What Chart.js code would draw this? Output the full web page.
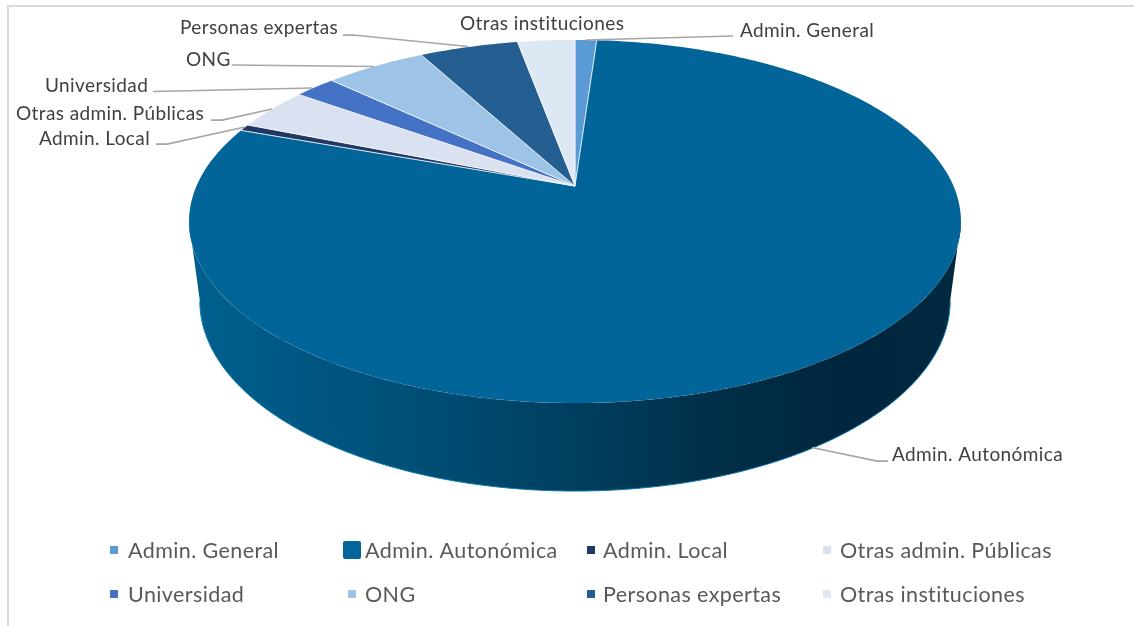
<!DOCTYPE html>
<html><head><meta charset="utf-8">
<style>html,body{margin:0;padding:0;background:#fff}#w{position:absolute;left:0;top:0;width:1134px;height:626px}</style>
<script src="https://cdn.jsdelivr.net/npm/chart.js@4"></script></head>
<body><div id="w"><canvas id="c" width="1134" height="626"></canvas></div>
<script>
const categories = ["Admin. General","Admin. Autonómica","Admin. Local","Otras admin. Públicas","Universidad","ONG","Personas expertas","Otras instituciones"];
const values = [1.1,79.5,0.6,3.8,2.1,5.1,5.0,2.9];
const colors = ["#5b9bd5","#01659a","#1f3864","#dae1f1","#4472c4","#9dc3e6","#255e91","#dde8f5"];

// perspective disc layout
const G = {cx:575, cy:186, R:378.5, S:174.6, p:-0.1956, lowerScale:0.972, midY:221.5, lowerMidY:301, lowerYScale:190/181.5};
function proj(a){const x=Math.cos(a),y=Math.sin(a),w=1+G.p*y;return [G.cx+G.R*x/w,G.cy+G.S*y/w];}
function lower(pt){return [G.cx+(pt[0]-G.cx)*G.lowerScale,G.lowerMidY+(pt[1]-G.midY)*G.lowerYScale];}

const labelLayout = [
 {x:740,y:31,line:[[586,40],[733,36]]},
 {x:892,y:455,line:[[812,447.5],[877,461],[888,461]]},
 {x:39,y:139,line:[[156,144],[167,144],[245,127]]},
 {x:16,y:114,line:[[211,120],[222,120],[272,109]]},
 {x:45,y:86,line:[[153,91.5],[312,88]]},
 {x:186,y:60,line:[[232,65],[374,66.5]]},
 {x:180,y:28,line:[[343,35],[353,35],[468,46.5]]},
 {x:460,y:24,line:null}
];
const legendLayout = [
 {mx:110,tx:128,y:551},{mx:343,tx:365,y:551,big:true},{mx:587,tx:603,y:551},{mx:823,tx:840,y:551},
 {mx:110,tx:128,y:595},{mx:348,tx:365,y:595},{mx:587,tx:603,y:595},{mx:823,tx:840,y:595}
];
const FONT='Lato, Carlito, "Open Sans", sans-serif';

const disc3d = {
 id:'disc3d',
 beforeDatasetDraw(chart,args){
  const ctx=chart.ctx, arcs=args.meta.data;
  const wallStart=Math.asin(-G.p), wallEnd=Math.PI-wallStart;
  const grad=ctx.createLinearGradient(200,0,950,0);
  grad.addColorStop(0,'#005f8e');grad.addColorStop(0.3,'#004e75');grad.addColorStop(0.5,'#003f5f');
  grad.addColorStop(0.7,'#002e47');grad.addColorStop(0.85,'#00273d');grad.addColorStop(1,'#00283e');
  ctx.save();
  arcs.forEach((arc,i)=>{
   // front wall of the slice
   let s=arc.startAngle,e=arc.endAngle;
   const lo=Math.max(s,wallStart), hi=Math.min(e,wallEnd);
   if(hi>lo){
    ctx.beginPath();
    const n=200;
    for(let k=0;k<=n;k++){const a=lo+(hi-lo)*k/n;const q=proj(a);k?ctx.lineTo(q[0],q[1]):ctx.moveTo(q[0],q[1]);}
    for(let k=n;k>=0;k--){const a=lo+(hi-lo)*k/n;const q=lower(proj(a));ctx.lineTo(q[0],q[1]);}
    ctx.closePath();
    ctx.fillStyle=grad;ctx.fill();
    ctx.strokeStyle='#0a7ab0';ctx.lineWidth=1;
    ctx.beginPath();
    for(let k=0;k<=n;k++){const a=lo+(hi-lo)*k/n;const q=lower(proj(a));k?ctx.lineTo(q[0],q[1]):ctx.moveTo(q[0],q[1]);}
    ctx.stroke();
   }
  });
  arcs.forEach((arc,i)=>{
   const s=arc.startAngle,e=arc.endAngle,n=Math.max(8,Math.ceil((e-s)*60));
   ctx.beginPath();ctx.moveTo(G.cx,G.cy);
   for(let k=0;k<=n;k++){const q=proj(s+(e-s)*k/n);ctx.lineTo(q[0],q[1]);}
   ctx.closePath();
   ctx.fillStyle=colors[i];ctx.fill();
   ctx.strokeStyle='rgba(255,255,255,0.85)';ctx.lineWidth=0.8;
   ctx.beginPath();const a=proj(s),b=proj(e);
   ctx.moveTo(a[0],a[1]);ctx.lineTo(G.cx,G.cy);ctx.lineTo(b[0],b[1]);ctx.stroke();
  });
  ctx.restore();
  return false;
 },
 afterDraw(chart){
  const ctx=chart.ctx;
  ctx.save();
  // frame
  ctx.strokeStyle='#d9d9d9';ctx.lineWidth=2;
  ctx.beginPath();ctx.moveTo(8,626);ctx.lineTo(8,6);ctx.lineTo(1134,6);ctx.stroke();
  // leaders
  ctx.strokeStyle='#a6a6a6';ctx.lineWidth=1.75;
  labelLayout.forEach(l=>{if(!l.line)return;ctx.beginPath();l.line.forEach((p,k)=>k?ctx.lineTo(p[0],p[1]):ctx.moveTo(p[0],p[1]));ctx.stroke();});
  // data labels
  ctx.textBaseline='middle';ctx.textAlign='left';
  ctx.fillStyle='#404040';ctx.font='19px '+FONT;ctx.letterSpacing='0.4px';
  categories.forEach((c,i)=>ctx.fillText(c,labelLayout[i].x,labelLayout[i].y));
  // legend
  ctx.font='21.5px '+FONT;ctx.letterSpacing='0.4px';
  categories.forEach((c,i)=>{
   const l=legendLayout[i];
   ctx.fillStyle=colors[i];
   if(l.big){ctx.beginPath();ctx.roundRect(l.mx,l.y-10,18,18,2);ctx.fill();}
   else ctx.fillRect(l.mx,l.y-5,8,8);
   ctx.fillStyle='#595959';ctx.fillText(c,l.tx,l.y);
  });
  ctx.restore();
 }
};
new Chart(document.getElementById('c'),{
 type:'pie',
 data:{labels:categories,datasets:[{data:values,backgroundColor:colors,borderWidth:0}]},
 options:{responsive:false,animation:false,plugins:{legend:{display:false},tooltip:{enabled:false}}},
 plugins:[disc3d]
});
</script></body></html>
